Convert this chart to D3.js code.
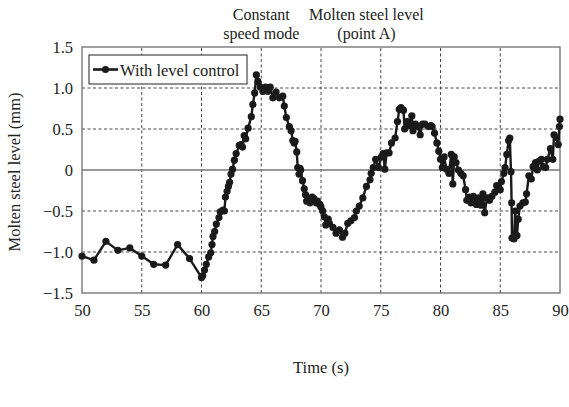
<!DOCTYPE html>
<html>
<head>
<meta charset="utf-8">
<script src="https://cdnjs.cloudflare.com/ajax/libs/d3/7.8.5/d3.min.js"></script>
<style>
  body { margin: 0; background: #fff; }
  svg { display: block; font-family: "Liberation Serif", "Times New Roman", serif; }
</style>
</head>
<body>
<div id="chart"></div>
<script>

// time (s) and molten steel level (mm)
var times = [
  50, 51, 52, 53, 54, 55, 56, 57, 58, 59, 60,
  60.1, 60.25, 60.4, 60.6, 60.77, 60.88, 60.96, 61.1, 61.24, 61.46, 61.57, 61.8, 61.92,
  62.0, 62.14, 62.25, 62.35, 62.47, 62.6, 62.75, 62.9, 63.16, 63.3, 63.43, 63.57, 63.7,
  63.9, 64.17, 64.3, 64.45, 64.59, 64.72, 64.92, 65.14, 65.36, 65.55, 65.75, 65.97,
  66.24, 66.52, 66.8, 66.93, 67.1, 67.35, 67.5, 67.64, 67.76, 67.83, 67.97, 68.05,
  68.16, 68.24, 68.3, 68.45, 68.6, 68.7, 68.8, 68.93, 69.07, 69.25, 69.4, 69.6, 69.7,
  69.9, 70.0, 70.14, 70.28, 70.4, 70.6, 70.7, 71.0, 71.26, 71.54, 71.8, 72.0, 72.24,
  72.5, 72.8, 72.96, 73.2, 73.5, 73.8, 74.1, 74.2, 74.37, 74.57, 74.8, 75.06, 75.2,
  75.34, 75.5, 75.7, 75.9, 76.2, 76.4, 76.55, 76.7, 76.9, 77.0, 77.2, 77.4, 77.6,
  77.7, 77.9, 78.1, 78.3, 78.5, 78.7, 79.0, 79.2, 79.3, 79.5, 79.7, 79.86, 80.0,
  80.15, 80.3, 80.5, 80.7, 80.9, 81.03, 81.15, 81.3, 81.5, 81.7, 81.9, 82.1, 82.2,
  82.4, 82.55, 82.75, 83.0, 83.2, 83.4, 83.55, 83.7, 83.9, 84.1, 84.3, 84.55, 84.7,
  85.0, 85.1, 85.3, 85.4, 85.55, 85.7, 85.8, 85.9, 85.95, 85.98, 86.15, 86.25, 86.4,
  86.5, 86.65, 86.9, 87.1, 87.2, 87.4, 87.6, 87.75, 87.95, 88.1, 88.25, 88.45, 88.6,
  88.8, 88.95, 89.2, 89.4, 89.5, 89.7, 89.85, 89.95, 90.0
];
var level = [
  -1.05, -1.1, -0.87, -0.98, -0.95, -1.05, -1.15, -1.16, -0.91, -1.08, -1.31,
  -1.29, -1.22, -1.15, -1.06, -1.01, -0.91, -0.81, -0.75, -0.66, -0.58, -0.51, -0.49, -0.5,
  -0.33, -0.26, -0.2, -0.15, -0.05, 0.01, 0.12, 0.2, 0.3, 0.31, 0.28, 0.42, 0.38,
  0.51, 0.65, 0.8, 0.94, 1.16, 1.08, 1.01, 0.96, 1.01, 0.96, 1.01, 0.88,
  0.95, 0.88, 0.9, 0.78, 0.64, 0.53, 0.48, 0.36, 0.33, 0.35, 0.22, 0.03,
  -0.05, 0.02, 0.0, -0.13, -0.23, -0.3, -0.38, -0.35, -0.4, -0.33, -0.35, -0.4, -0.38,
  -0.42, -0.45, -0.5, -0.57, -0.67, -0.6, -0.65, -0.7, -0.77, -0.73, -0.82, -0.77, -0.65,
  -0.62, -0.58, -0.5, -0.44, -0.34, -0.2, -0.12, -0.04, 0.03, 0.13, 0.03, 0.16, 0.2,
  0.01, 0.21, 0.21, 0.33, 0.39, 0.59, 0.74, 0.76, 0.73, 0.5, 0.59, 0.54, 0.66,
  0.48, 0.56, 0.53, 0.43, 0.56, 0.56, 0.53, 0.54, 0.53, 0.45, 0.33, 0.23, 0.13,
  0.03, 0.16, 0.01, -0.04, 0.19, -0.17, 0.16, 0.09, 0.0, -0.04, -0.07, -0.24, -0.37,
  -0.33, -0.4, -0.32, -0.42, -0.34, -0.43, -0.29, -0.52, -0.34, -0.37, -0.32, -0.27, -0.19,
  -0.24, -0.14, -0.04, 0.03, 0.19, 0.36, 0.39, -0.02, -0.4, -0.83, -0.84, -0.5, -0.8,
  -0.6, -0.44, -0.4, -0.39, -0.29, -0.07, -0.11, 0.04, 0.09, 0.0, 0.11, 0.13, 0.04,
  0.03, 0.13, 0.26, 0.13, 0.43, 0.39, 0.31, 0.53, 0.62
];

var xTicks = [50, 55, 60, 65, 70, 75, 80, 85, 90];
var yTicks = [-1.5, -1.0, -0.5, 0, 0.5, 1.0, 1.5];

var width = 569;
var height = 407;
var margin = ({top: 47, right: 9, bottom: 114, left: 82});
var FONT = 16.5;

var data = times.map((t, i) => [t, level[i]]);

var svg = d3.select("#chart")
  .append("svg")
    .attr("width", width)
    .attr("height", height)

var xScale = d3.scaleLinear()
  .domain([50, 90])
  .range([margin.left, width - margin.right])

var yScale = d3.scaleLinear()
  .domain([-1.5, 1.5])
  .range([height - margin.bottom, margin.top])

// grid lines
svg.append("g")
  .selectAll("line")
  .data(xTicks.slice(1, -1))
  .join("line")
    .attr("x1", d => xScale(d))
    .attr("x2", d => xScale(d))
    .attr("y1", yScale(-1.5))
    .attr("y2", yScale(1.5))
    .attr("stroke", "#333")
    .attr("stroke-width", 0.9)
    .attr("stroke-dasharray", "3,2.5")

svg.append("g")
  .selectAll("line")
  .data(yTicks.slice(1, -1))
  .join("line")
    .attr("x1", xScale(50))
    .attr("x2", xScale(90))
    .attr("y1", d => yScale(d))
    .attr("y2", d => yScale(d))
    .attr("stroke", d => d == 0 ? "#777" : "#333")
    .attr("stroke-width", d => d == 0 ? 1.3 : 0.9)
    .attr("stroke-dasharray", d => d == 0 ? null : "3,2.5")

// axes
svg.append("g")
    .attr("transform", `translate(0,${height - margin.bottom})`)
    .call(d3.axisBottom(xScale).tickValues(xTicks).tickSize(0).tickPadding(11).tickFormat(d3.format("d")))
svg.append("g")
    .attr("transform", `translate(${margin.left},0)`)
    .call(d3.axisLeft(yScale).tickValues(yTicks).tickSize(0).tickPadding(9)
      .tickFormat(d => d == 0 ? "0" : d3.format(".1f")(d).replace("-", "\u2212")))

svg.selectAll(".domain").remove()
svg.selectAll(".tick text")
    .attr("font-family", "Liberation Serif, serif")
    .attr("font-size", FONT)
    .attr("fill", "#222")

// frame
svg.append("rect")
    .attr("x", xScale(50))
    .attr("y", yScale(1.5))
    .attr("width", xScale(90) - xScale(50))
    .attr("height", yScale(-1.5) - yScale(1.5))
    .attr("fill", "none")
    .attr("stroke", "#777")
    .attr("stroke-width", 1.4)

// the series
svg.append("path")
    .datum(data)
    .attr("fill", "none")
    .attr("stroke", "#1a1a1a")
    .attr("stroke-width", 2.4)
    .attr("stroke-linejoin", "round")
    .attr("d", d3.line().x(d => xScale(d[0])).y(d => yScale(d[1])))

svg.append("g")
  .selectAll("circle")
  .data(data)
  .join("circle")
    .attr("cx", d => xScale(d[0]))
    .attr("cy", d => yScale(d[1]))
    .attr("r", 3.6)
    .attr("fill", "#1a1a1a")

// legend
var lg = svg.append("g")
lg.append("rect")
    .attr("x", 89).attr("y", 55)
    .attr("width", 158).attr("height", 29)
    .attr("fill", "#fff")
    .attr("stroke", "#222")
    .attr("stroke-width", 1)
lg.append("line")
    .attr("x1", 93).attr("x2", 118)
    .attr("y1", 69.5).attr("y2", 69.5)
    .attr("stroke", "#1a1a1a").attr("stroke-width", 2.6)
lg.append("circle")
    .attr("cx", 105.5).attr("cy", 69.5).attr("r", 3.6)
    .attr("fill", "#1a1a1a")
lg.append("text")
    .attr("x", 120).attr("y", 75.5)
    .attr("font-size", FONT)
    .attr("fill", "#222")
    .text("With level control")

// annotations above the plot, one text per line
function note(x, lines) {
  lines.forEach((s, i) => {
    svg.append("text")
        .attr("text-anchor", "middle")
        .attr("x", x)
        .attr("y", 20 + i * 19)
        .attr("font-size", 16)
        .attr("fill", "#222")
        .text(s)
  })
}
note(xScale(65), ["Constant", "speed mode"]);
note(xScale(73.8), ["Molten steel level", "(point A)"]);

// axis titles
svg.append("text")
    .attr("text-anchor", "middle")
    .attr("x", (xScale(50) + xScale(90)) / 2)
    .attr("y", height - 34)
    .attr("font-size", FONT)
    .attr("fill", "#222")
    .text("Time (s)");

svg.append("text")
    .attr("text-anchor", "middle")
    .attr("transform", `translate(20,${yScale(0) + 2}) rotate(-90)`)
    .attr("font-size", FONT)
    .attr("fill", "#222")
    .text("Molten steel level (mm)");

</script>
</body>
</html>
